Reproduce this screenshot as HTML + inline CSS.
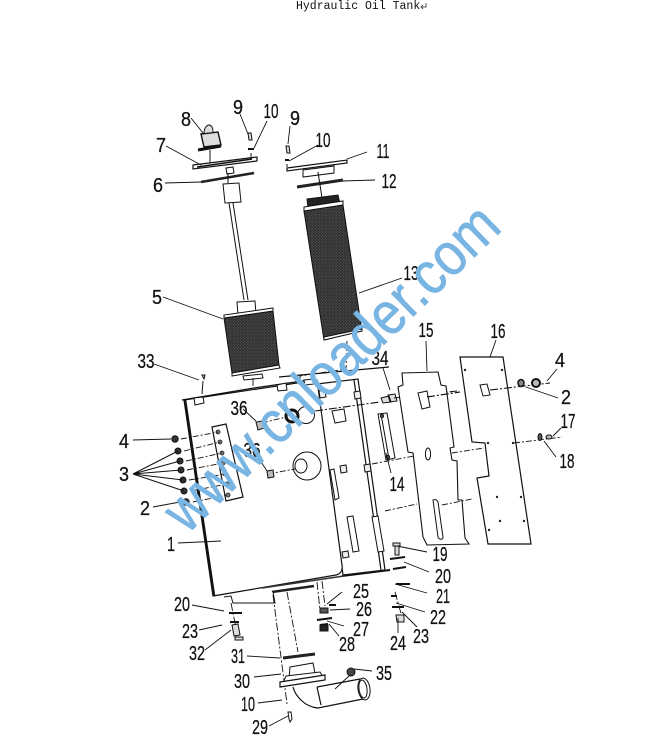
<!DOCTYPE html>
<html>
<head>
<meta charset="utf-8">
<style>
html,body{margin:0;padding:0;background:#fff;width:668px;height:740px;overflow:hidden}
svg{display:block}
.l text{font-family:"Liberation Sans",sans-serif;font-size:20px;fill:#111;stroke:#111;stroke-width:.25;text-anchor:middle}
</style>
</head>
<body>
<svg width="668" height="740" viewBox="0 0 668 740" xmlns="http://www.w3.org/2000/svg">
<defs>
<pattern id="mesh" width="2" height="2" patternUnits="userSpaceOnUse" patternTransform="rotate(45)">
<rect width="2" height="2" fill="#2e2e2e"/><rect width="1" height="1" fill="#5c5c5c"/>
</pattern>
</defs>
<text x="296" y="9" font-family="Liberation Mono,monospace" font-size="11.5" fill="#111">Hydraulic Oil Tank</text>
<path d="M426 3v4h-5m2-2l-2 2 2 2" fill="none" stroke="#555" stroke-width="1"/>

<g fill="none" stroke="#111" stroke-width="1">
<!-- left top assembly -->
<path d="M193 165l64-8 0 4-64 8z" fill="#fff" stroke-width="1.2"/>
<path d="M197 167l55-8" stroke-width="1.6"/>
<path d="M226 168l7-1 1 6-7 1z" fill="#fff"/>
<path d="M201 182l53-9" stroke="#222" stroke-width="2.6"/>
<path d="M210 150v13"/>
<path d="M201 134l17-2 3 13-17 2z" fill="#ddd" stroke-width="1.4"/>
<path d="M204 133c0-5 3-8 5-8s4 2 4 7" fill="#ddd"/>
<path d="M198 150l23-4" stroke-width="3"/>
<path d="M223 184l16-1 2 19-16 1z" fill="#fff"/>
<path d="M229 203l15 97M233 203l15 97"/>
<path d="M228 173v10"/>
<path d="M237 302l18-1 1 13-18 2z" fill="#fff"/>
<path d="M224 318l49-7 6 54-47 8z" fill="url(#mesh)"/>
<path d="M224 318l49-7 0-3-49 7zM232 373l47-8 1 3-48 8z" fill="#fff"/>
<path d="M243 376l19-2 1 4-19 2z" fill="#fff"/>

<!-- right top assembly -->
<path d="M287 168l60-8 0 3-60 8z" fill="#fff" stroke-width="1.2"/>
<path d="M303 170l31-4 0 7-31 4z" fill="#fff"/>
<path d="M297 187l46-7" stroke="#222" stroke-width="3"/>
<path d="M318 172l4 26"/>
<path d="M307 199l31-4 2 9-32 4z" fill="#222"/>
<path d="M304 207l39-6 0 5-39 6z" fill="#fff"/>
<path d="M304 211l39-6 19 126-38 9z" fill="url(#mesh)"/>
<path d="M324 340l38-9 0-2-38 8z" fill="#fff"/>
<path d="M347 341l-1 28-46 7v5" stroke-dasharray="6 2 2 2" stroke-width=".9"/>
<path d="M253 378v8" stroke-width=".9"/>

<!-- side section of tank -->
<path d="M317 384l41-5 27 191-42 5z" fill="#fff" stroke-width="1.2"/>
<path d="M354 380l27 190" stroke-width="1.2"/>
<path d="M279 377l110-10" stroke-width="1.2"/>
<path d="M342 576l48-6" stroke-width="2"/>

<!-- tank front -->
<path d="M184 400l133-20 25 185c1 6-2 9-6 10l-123 21z" fill="#fff" stroke-width="1.2"/>
<path d="M185 400l29 196" stroke-width="2.6"/>
<path d="M182 400l72-12 55-8" stroke-width="1.2"/>
<path d="M262 588l82-12" stroke="#333" stroke-width="1.5"/>
<path d="M272 592l42-6" stroke="#222" stroke-width="2.5"/>
<path d="M194 398l9-1 1 6-9 2zM277 385l9-2 1 7-9 1zM304 380l9-1 1 5-9 1z" fill="#fff"/>

<!-- panel details -->
<path d="M319 391l6-1 1 7-6 1zM354 392l6-1 1 7-6 1zM340 466l6-1 1 7-6 1zM364 465l6-1 1 7-6 1zM342 552l6-1 1 6-6 1z" fill="#eee"/>
<path d="M330 470l4-1 5 29-4 2zM347 517l6-1 6 35-6 1zM372 517l6-1 6 35-6 1zM332 411l12-2 2 12-11 2z" fill="#fff"/>
<path d="M378 414l9-1 8 45-9 2z" fill="#fff"/>
<path d="M381 414l8 45"/>
<circle cx="382" cy="416" r="1.6" fill="#555"/>
<circle cx="388" cy="457" r="1.6" fill="#555"/>

<!-- bracket strip -->
<path d="M212 427l14-3 17 73-17 4z" fill="#fff" stroke-width="1.2"/>
<g fill="#777" stroke="#222" stroke-width=".8">
<circle cx="218" cy="432" r="2"/><circle cx="220" cy="442" r="2"/><circle cx="222" cy="453" r="2"/><circle cx="223" cy="463" r="2"/><circle cx="225" cy="474" r="2"/><circle cx="227" cy="484" r="2"/><circle cx="228" cy="495" r="2"/>
</g>
<path d="M181 439l37-7M184 451l36-9M186 461l36-8M187 470l36-7M189 480l36-6M191 491l36-7M193 502l35-7" stroke-dasharray="6 2 2 2" stroke-width=".9"/>
<g fill="#333">
<circle cx="175" cy="439" r="3.2"/><circle cx="178" cy="451" r="3"/><circle cx="180" cy="461" r="3"/><circle cx="181" cy="470" r="3"/><circle cx="183" cy="480" r="3"/><circle cx="184" cy="491" r="3"/><circle cx="186" cy="502" r="3.2"/>
</g>
<path d="M133 474l45-23M133 474l47-13M133 474l48-4M133 474l50 6M133 474l51 17"/>

<!-- sight glasses -->
<circle cx="306" cy="415" r="8.5" fill="#fff"/>
<circle cx="292" cy="416" r="6" stroke-width="3"/>
<circle cx="307" cy="466" r="14" fill="#fff"/>
<ellipse cx="301" cy="466" rx="6" ry="7" fill="#fff"/>
<path d="M262 423l24-6M268 474l27-5" stroke-dasharray="6 2 2 2" stroke-width=".9"/>
<path d="M256 422l7-1 1 7-6 2zM267 471l6-1 1 7-6 1z" fill="#bbb"/>

<!-- bolt 34 and long lines -->
<path d="M381 398l8-2 2 6-8 1zM388 395l7-1 2 7-7 1z" fill="#ddd"/>
<path d="M315 411l65-9M394 398l63-7" stroke-dasharray="8 2 2 2" stroke-width="1.1"/>
<path d="M372 464l42-8M385 511l32-7" stroke-dasharray="6 2 2 2" stroke-width=".9"/>

<!-- plate 15 -->
<path d="M402 373l36-1 3 13 5 1 8 61-4 1 2 12 5 1 1 39 4 0 3 38 4 6-42 1-4-8-10-84-5-1-10-65 5-2z" fill="#fff" stroke-width="1.1"/>
<path d="M418 393l9-2 3 16-8 2zM433 500c3-1 4 0 5 2l5 35c0 3-4 3-5 0z" fill="#fff"/>
<ellipse cx="428" cy="454" rx="2.6" ry="6" fill="#fff"/>
<path d="M427 397l33-5" stroke-dasharray="8 2 2 2" stroke-width="1.2"/>
<path d="M452 453l32-5M442 505l30-6" stroke-dasharray="6 2 2 2" stroke-width=".9"/>

<!-- plate 16 -->
<path d="M460 357l43 0 28 187-43 0-11-66 12-2-4-33-13-1z" fill="#fff" stroke-width="1.2"/>
<path d="M480 385l7-1 3 11-7 1z" fill="#fff"/>
<path d="M490 390l60-7" stroke-width="1.1" stroke-dasharray="8 2 2 2"/>
<path d="M514 443l48-6" stroke-dasharray="6 2 2 2" stroke-width=".9"/>
<g fill="#222" stroke="none">
<circle cx="465" cy="370" r="1.2"/><circle cx="502" cy="370" r="1.2"/><circle cx="488" cy="443" r="1.2"/><circle cx="513" cy="443" r="1.2"/><circle cx="497" cy="497" r="1.2"/><circle cx="521" cy="497" r="1.2"/><circle cx="500" cy="521" r="1.2"/><circle cx="524" cy="521" r="1.2"/><circle cx="489" cy="530" r="1.2"/>
</g>
<ellipse cx="521" cy="383" rx="3" ry="3.5" fill="#888" stroke-width="1.5"/>
<ellipse cx="536" cy="383" rx="4" ry="4" fill="#bbb" stroke-width="2"/>
<ellipse cx="540" cy="437" rx="2" ry="3.5" fill="#555"/>
<ellipse cx="549" cy="437" rx="3" ry="2" fill="#bbb"/>

<!-- under tank -->
<path d="M224 597l7-1 2 7h42l-2-11" fill="#fff"/>
<path d="M273 595l14 109M287 592l11 60M317 582l3 28M322 581l3 25M395 592l7 25M231 603l5 25" stroke-dasharray="8 2 2 2" stroke-width=".9"/>
<path d="M229 613h13M230 622h9M396 584h14M391 596h6M392 607h12M329 605h7M317 620l15-2M320 625l8-1" stroke-width="2"/>
<path d="M232 625l6-1 2 11-6 1zM235 637h8v3h-8zM396 615h8v7h-7z" fill="#ddd"/>
<path d="M320 608h8v5h-8z" fill="#555"/>
<path d="M320 625h8v6h-8z" fill="#222"/>
<path d="M393 543h7v3h-7zM395 546h4v9h-4z" fill="#ddd"/>
<path d="M390 559l15-2M393 569l13-2" stroke-width="2"/>

<!-- pipe -->
<path d="M283 658l32-4" stroke="#222" stroke-width="3"/>
<path d="M290 667l23-4 2 10-26 6z" fill="#fff"/>
<path d="M286 676l34-4 4 7-42 6z" fill="#fff"/>
<path d="M280 682l45-7 0 5-45 7z" fill="#fff" stroke-width="1.2"/>
<path d="M293 687c2 8 11 20 25 21l50-10M317 687l43-8M317 687l4 18" stroke-width="1.2"/>
<ellipse cx="364" cy="689" rx="6" ry="11" fill="#fff" transform="rotate(-8 364 689)"/>
<ellipse cx="363" cy="689" rx="4" ry="9" transform="rotate(-8 363 689)"/>
<circle cx="351" cy="672" r="4" fill="#444"/>
<path d="M288 712l3 0 1 7-2 3-1-3z" fill="#fff"/>

<!-- screws -->
<path d="M248 133l3 0 1 7h-3zM286 146l3 0 1 7h-3z" fill="#ddd"/>
<path d="M248 149h6M285 160h4" stroke-width="2"/>
<path d="M251 153v5M287 164v3"/>
<path d="M202 375l3 0-1 4zM203 381l-1 13" fill="#ddd"/>
</g>

<!-- leaders -->
<path fill="none" stroke="#111" stroke-width=".9" d="M191 118l12 15M240 114l8 20M267 121l-13 27M290 126l-2 18M318 145l-29 16M166 146l35 19M367 152l-20 7M375 180l-32 1M165 183l36-1M163 297l60 22M402 278l-43 15M154 364l45 16M383 368l7 22M426 341l1 30M496 340l-6 17M557 369l-10 12M558 398l-32-11M561 428l-8 8M556 457l-12-16M243 409l13 12M256 454l11 17M133 440l38-1M153 507l27-5M178 543l43-2M391 473l-5-20M427 552l-30-6M429 572l-25-10M427 593l-32-9M425 612l-29-9M417 627l-15-15M398 633l0-15M342 592l-15 12M350 609l-20 1M344 626l-17-5M339 636l-10-12M192 605l32 6M199 630l23-5M205 650l26-20M247 656l33 2M254 677l27-3M258 703l24-3M269 726l19-10M372 671l-18-2M350 675l-15 14"/>

<!-- labels -->
<g class="l">
<text x="186" y="126" textLength="10" lengthAdjust="spacingAndGlyphs">8</text>
<text x="238" y="114" textLength="10" lengthAdjust="spacingAndGlyphs">9</text>
<text x="271" y="118" textLength="15" lengthAdjust="spacingAndGlyphs">10</text>
<text x="295" y="125" textLength="10" lengthAdjust="spacingAndGlyphs">9</text>
<text x="323" y="147" textLength="15" lengthAdjust="spacingAndGlyphs">10</text>
<text x="383" y="158" textLength="13" lengthAdjust="spacingAndGlyphs">11</text>
<text x="389" y="188" textLength="15" lengthAdjust="spacingAndGlyphs">12</text>
<text x="161" y="152" textLength="10" lengthAdjust="spacingAndGlyphs">7</text>
<text x="158" y="192" textLength="10" lengthAdjust="spacingAndGlyphs">6</text>
<text x="157" y="304" textLength="10" lengthAdjust="spacingAndGlyphs">5</text>
<text x="411" y="280" textLength="15" lengthAdjust="spacingAndGlyphs">13</text>
<text x="146" y="368" textLength="17" lengthAdjust="spacingAndGlyphs">33</text>
<text x="380" y="365" textLength="17" lengthAdjust="spacingAndGlyphs">34</text>
<text x="426" y="337" textLength="15" lengthAdjust="spacingAndGlyphs">15</text>
<text x="498" y="338" textLength="15" lengthAdjust="spacingAndGlyphs">16</text>
<text x="560" y="367" textLength="10" lengthAdjust="spacingAndGlyphs">4</text>
<text x="566" y="404" textLength="10" lengthAdjust="spacingAndGlyphs">2</text>
<text x="568" y="428" textLength="15" lengthAdjust="spacingAndGlyphs">17</text>
<text x="567" y="468" textLength="15" lengthAdjust="spacingAndGlyphs">18</text>
<text x="239" y="415" textLength="17" lengthAdjust="spacingAndGlyphs">36</text>
<text x="252" y="457" textLength="17" lengthAdjust="spacingAndGlyphs">36</text>
<text x="124" y="448" textLength="10" lengthAdjust="spacingAndGlyphs">4</text>
<text x="124" y="481" textLength="10" lengthAdjust="spacingAndGlyphs">3</text>
<text x="145" y="515" textLength="10" lengthAdjust="spacingAndGlyphs">2</text>
<text x="171" y="551" textLength="8" lengthAdjust="spacingAndGlyphs">1</text>
<text x="397" y="491" textLength="15" lengthAdjust="spacingAndGlyphs">14</text>
<text x="440" y="561" textLength="15" lengthAdjust="spacingAndGlyphs">19</text>
<text x="443" y="583" textLength="16" lengthAdjust="spacingAndGlyphs">20</text>
<text x="443" y="603" textLength="14" lengthAdjust="spacingAndGlyphs">21</text>
<text x="438" y="624" textLength="16" lengthAdjust="spacingAndGlyphs">22</text>
<text x="421" y="643" textLength="16" lengthAdjust="spacingAndGlyphs">23</text>
<text x="398" y="650" textLength="16" lengthAdjust="spacingAndGlyphs">24</text>
<text x="361" y="598" textLength="16" lengthAdjust="spacingAndGlyphs">25</text>
<text x="364" y="616" textLength="16" lengthAdjust="spacingAndGlyphs">26</text>
<text x="361" y="636" textLength="16" lengthAdjust="spacingAndGlyphs">27</text>
<text x="347" y="651" textLength="16" lengthAdjust="spacingAndGlyphs">28</text>
<text x="182" y="611" textLength="16" lengthAdjust="spacingAndGlyphs">20</text>
<text x="190" y="638" textLength="16" lengthAdjust="spacingAndGlyphs">23</text>
<text x="197" y="660" textLength="16" lengthAdjust="spacingAndGlyphs">32</text>
<text x="238" y="663" textLength="14" lengthAdjust="spacingAndGlyphs">31</text>
<text x="242" y="688" textLength="16" lengthAdjust="spacingAndGlyphs">30</text>
<text x="248" y="711" textLength="14" lengthAdjust="spacingAndGlyphs">10</text>
<text x="260" y="734" textLength="16" lengthAdjust="spacingAndGlyphs">29</text>
<text x="384" y="680" textLength="16" lengthAdjust="spacingAndGlyphs">35</text>
</g>

<!-- watermark -->
<text transform="translate(187 535) rotate(-44)" font-family="Liberation Sans,sans-serif" font-size="60" fill="#79b5e3" stroke="#79b5e3" stroke-width=".7" textLength="440" lengthAdjust="spacingAndGlyphs">www.cnloader.com</text>
</svg>
</body>
</html>
